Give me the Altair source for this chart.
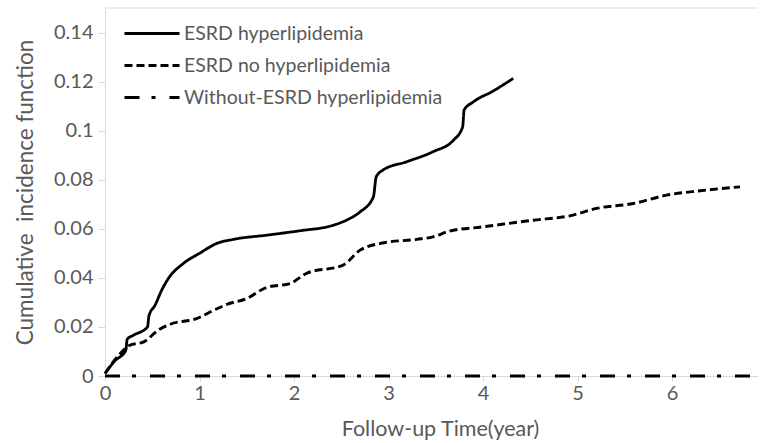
import altair as alt
import pandas as pd

FONT = "Lato"
GRAY = "#595959"
AXIS = "#d9d9d9"

series_names = ["ESRD hyperlipidemia", "ESRD no hyperlipidemia", "Without-ESRD hyperlipidemia"]

esrd_hl_t = [0, 0.10, 0.22, 0.235, 0.30, 0.45, 0.465, 0.53, 0.60, 0.67, 0.83, 1.0, 1.18, 1.36,
             1.71, 2.06, 2.42, 2.59, 2.70, 2.84, 2.87, 2.94, 3.19, 3.47, 3.69, 3.785, 3.80,
             3.90, 4.10, 4.32]
esrd_hl_v = [0.001, 0.006, 0.0105, 0.0150, 0.0166, 0.0200, 0.0245, 0.0289, 0.0350, 0.0397,
             0.0459, 0.0500, 0.0540, 0.0557, 0.0574, 0.0592, 0.0615, 0.0642, 0.0669, 0.0730,
             0.0812, 0.0839, 0.0873, 0.0914, 0.0962, 0.1016, 0.1084, 0.1118, 0.1160, 0.1213]

esrd_no_t = [0, 0.16, 0.26, 0.41, 0.56, 0.69, 0.97, 1.15, 1.29, 1.5, 1.71, 1.96, 2.13, 2.52,
             2.70, 2.95, 3.30, 3.47, 3.64, 4.0, 4.53, 4.92, 5.20, 5.59, 5.94, 6.30, 6.72]
esrd_no_v = [0.001, 0.0091, 0.0125, 0.0139, 0.0186, 0.0211, 0.0234, 0.0268, 0.0292, 0.0316,
             0.0361, 0.0377, 0.0418, 0.0452, 0.0513, 0.0543, 0.0557, 0.0567, 0.0590, 0.0608,
             0.0635, 0.0653, 0.0683, 0.0703, 0.0737, 0.0755, 0.0771]

without_t = [0, 6.91]
without_v = [0, 0]

y_ticks = [0, 0.02, 0.04, 0.06, 0.08, 0.10, 0.12, 0.14]
x_ticks = [0, 1, 2, 3, 4, 5, 6]

rows = []
for name, ts, vs in zip(series_names,
                        [esrd_hl_t, esrd_no_t, without_t],
                        [esrd_hl_v, esrd_no_v, without_v]):
    for i, (t, v) in enumerate(zip(ts, vs)):
        rows.append({"series": name, "t": t, "v": v, "order": i})
df = pd.DataFrame(rows)

x_scale = alt.Scale(domain=[0, 6.91], nice=False, zero=False)
y_scale = alt.Scale(domain=[0, 0.15], nice=False)

legend_kw = dict(title=None, orient="none", legendX=18, legendY=13,
                 symbolType="M-1,0H4", symbolSize=484,
                 symbolStrokeColor="black", symbolFillColor="transparent",
                 labelFont=FONT, labelFontSize=19.5, labelColor=GRAY,
                 labelOffset=36, labelLimit=400, rowPadding=10)

lines = alt.Chart(df).mark_line(interpolate="monotone", color="black").encode(
    x=alt.X("t:Q", scale=x_scale,
            axis=alt.Axis(title="Follow-up Time(year)", values=x_ticks, format="d",
                          grid=False, domainColor=AXIS, tickColor=AXIS, tickSize=5,
                          labelFlush=False, labelPadding=2, titlePadding=15,
                          titleFontSize=21.5, titleX=335)),
    y=alt.Y("v:Q", scale=y_scale,
            axis=alt.Axis(title="Cumulative\u00a0 incidence function", values=y_ticks, format="~g",
                          grid=False, domainColor=AXIS, tickColor=AXIS, tickSize=7,
                          labelPadding=5, titlePadding=16, titleFontSize=22.5)),
    strokeDash=alt.StrokeDash("series:N",
                              scale=alt.Scale(domain=series_names,
                                              range=[[1, 0], [8, 4], [15, 12, 4, 14]]),
                              legend=alt.Legend(**legend_kw)),
    strokeWidth=alt.StrokeWidth("series:N",
                                scale=alt.Scale(domain=series_names, range=[2.8, 3, 4.5]),
                                legend=alt.Legend(**legend_kw)),
    order="order:Q",
)

top_line = alt.Chart(pd.DataFrame({"y": [0.15]})).mark_rule(color=AXIS, strokeWidth=1).encode(
    y=alt.Y("y:Q", scale=y_scale)
)

chart = alt.layer(top_line, lines).properties(
    width=653, height=368,
    autosize=alt.AutoSizeParams(type="none"),
    padding={"left": 105, "top": 8, "right": 3, "bottom": 67},
).configure_view(stroke=None).configure_axis(
    labelFont=FONT, labelFontSize=20, labelColor=GRAY,
    titleFont=FONT, titleColor=GRAY, titleFontWeight="normal",
)

chart.save("out.html", embed_options={"renderer": "svg", "actions": False})
